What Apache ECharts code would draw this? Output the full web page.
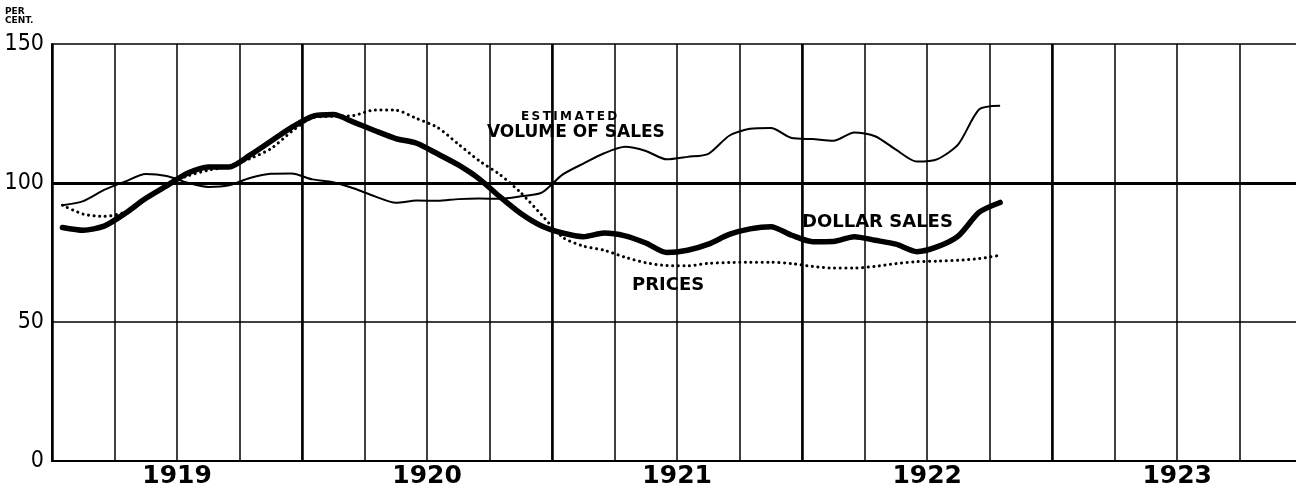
<!DOCTYPE html>
<html>
<head>
<meta charset="utf-8">
<script src="https://cdn.jsdelivr.net/npm/echarts@6/dist/echarts.min.js"></script>
<style>
    html, body {
        margin: 0;
        padding: 0;
        background: #fff;
    }

    #chart {
        width: 1296px;
        height: 489px;
    }
</style>
</head>
<body>
<div id="chart"></div>
<script>
    // monthly index numbers, Jan 1919 .. Oct 1922 (per cent)
    const years = ['1919', '1920', '1921', '1922', '1923'];

    const volumeOfSales = [
        92, 93.5, 97.5, 100.5, 103.2, 102.5, 100.1, 98.6, 99.2, 101.8, 103.3, 103.4,
        101.3, 100.3, 98, 95.2, 92.9, 93.7, 93.6, 94.2, 94.4, 94.3, 95.2, 96.5,
        103, 107, 110.7, 113, 111.5, 108.5, 109.4, 110.5, 117, 119.5, 119.8, 116.2,
        115.8, 115.2, 118.2, 116.8, 112, 107.7, 108.6, 114, 126.5, 127.8
    ];
    const dollarSales = [
        84, 83, 84.5, 89, 94.5, 99, 103.5, 105.8, 105.8, 110, 115, 120,
        124, 124.6, 121.8, 118.8, 116, 114.3, 110.5, 106.5, 101.5, 95, 89, 84.5,
        82, 80.7, 82, 81, 78.4, 75, 75.8, 78, 81.5, 83.5, 84.3, 81.2,
        78.9, 79, 80.7, 79.4, 78, 75.3, 77.1, 81, 89.5, 93
    ];
    const prices = [
        92, 88.8, 88, 89.5, 94, 99.3, 102.5, 104.6, 106, 108.8, 112.3, 118.5,
        123.5, 124, 124.3, 126.3, 126.2, 123.2, 120, 114, 108, 103, 96.5, 88.5,
        80.5, 77.3, 75.8, 73.3, 71.3, 70.3, 70.2, 71.1, 71.4, 71.5, 71.5, 71,
        70, 69.4, 69.4, 70, 71, 71.7, 71.9, 72.2, 72.8, 74
    ];

    // months counted from Jan 1919, each value plotted mid-month
    function toPoints(values) {
        return values.map((v, i) => [i + 0.5, v]);
    }

    // the sheet is cut off a little before Jan 1924
    const monthsShown = 59.7;
    const labelFont = '"DejaVu Sans", sans-serif';

    const chart = echarts.init(document.getElementById('chart'));
    chart.setOption({
        backgroundColor: '#fff',
        animation: false,
        grid: {
            left: 52,
            top: 44,
            right: 0,
            bottom: 28
        },
        xAxis: [
            {
                type: 'value',
                min: 0,
                max: monthsShown,
                interval: 3,
                axisLine: {show: true, onZero: false, lineStyle: {color: '#000', width: 2}},
                axisTick: {show: false},
                axisLabel: {
                    margin: 3,
                    color: '#000',
                    fontFamily: labelFont,
                    fontWeight: 'bold',
                    fontSize: 25,
                    showMaxLabel: false,
                    formatter: v => (v % 12 === 6 ? years[(v - 6) / 12] : '')
                },
                splitLine: {show: true, showMaxLine: false, lineStyle: {color: '#000', width: 1.5}}
            },
            {
                type: 'value',
                min: 0,
                max: monthsShown,
                interval: 12,
                axisLine: {show: false},
                axisTick: {show: false},
                axisLabel: {show: false},
                splitLine: {show: true, showMaxLine: false, lineStyle: {color: '#000', width: 2.5}}
            }
        ],
        yAxis: {
            type: 'value',
            min: 0,
            max: 150,
            interval: 50,
            axisLine: {show: true, lineStyle: {color: '#000', width: 2}},
            axisTick: {show: false},
            axisLabel: {
                margin: 8,
                color: '#000',
                fontFamily: '"Liberation Sans Narrow", "DejaVu Sans Condensed", sans-serif',
                fontSize: 23
            },
            splitLine: {show: true, lineStyle: {color: '#000', width: 1.5}}
        },
        series: [
            {
                name: 'Estimated volume of sales',
                type: 'line',
                smooth: 0.25,
                showSymbol: false,
                lineStyle: {color: '#000', width: 2},
                data: toPoints(volumeOfSales),
                markLine: {
                    silent: true,
                    symbol: 'none',
                    label: {show: false},
                    lineStyle: {color: '#000', width: 3, type: 'solid'},
                    data: [{yAxis: 100}]
                }
            },
            {
                name: 'Prices',
                type: 'line',
                smooth: 0.25,
                showSymbol: false,
                lineStyle: {color: '#000', width: 3, type: [0.1, 5.5], cap: 'round'},
                data: toPoints(prices)
            },
            {
                name: 'Dollar sales',
                type: 'line',
                smooth: 0.25,
                showSymbol: false,
                lineStyle: {color: '#000', width: 5.5, cap: 'round', join: 'round'},
                data: toPoints(dollarSales)
            }
        ],
        graphic: [
            {
                type: 'text', left: 5, top: 7,
                style: {text: 'PER\nCENT.', fill: '#000', font: 'bold 9px "DejaVu Sans"', lineHeight: 9}
            },
            {
                type: 'text', left: 521, top: 111,
                style: {
                    text: 'E\u2009S\u2009T\u2009I\u2009M\u2009A\u2009T\u2009E\u2009D',
                    fill: '#000', font: 'bold 12px "DejaVu Sans"'
                }
            },
            {
                type: 'text', left: 487, top: 124,
                style: {text: 'VOLUME OF SALES', fill: '#000', font: 'bold 17px "DejaVu Sans"'}
            },
            {
                type: 'text', left: 802, top: 213,
                style: {text: 'DOLLAR SALES', fill: '#000', font: 'bold 18px "DejaVu Sans"'}
            },
            {
                type: 'text', left: 632, top: 276,
                style: {text: 'PRICES', fill: '#000', font: 'bold 18px "DejaVu Sans"'}
            }
        ]
    });
</script>
</body>
</html>
